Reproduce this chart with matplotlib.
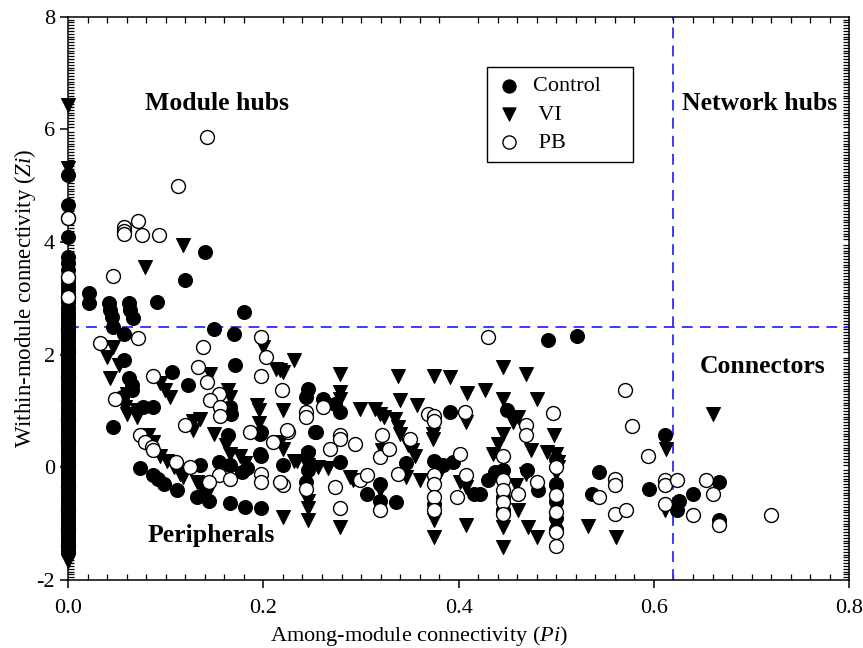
import numpy as np
import matplotlib.pyplot as plt
from matplotlib.ticker import MultipleLocator

plt.rcParams['font.family'] = ['Liberation Serif', 'DejaVu Serif']
plt.rcParams['mathtext.fontset'] = 'custom'
plt.rcParams['mathtext.it'] = 'Liberation Serif:italic'
plt.rcParams['mathtext.rm'] = 'Liberation Serif'
plt.rcParams['axes.unicode_minus'] = False

# nodes with Pi = 0 (the dense column on the left axis), Zi only
control_zi_at0 = [5.19, 4.65, 4.09, 3.74, 3.62, 3.50, 3.36, 3.28, 3.21, 3.13, 3.05, 2.98, 2.93,
                  2.85, 2.78, 2.71, 2.64, 2.57, 2.51, 2.44, 2.37, 2.30, 2.22, 2.16, 2.10, 2.02,
                  1.95, 1.89, 1.83, 1.76, 1.70, 1.63, 1.56, 1.49, 1.42, 1.36, 1.30, 1.23, 1.17,
                  1.10, 1.03, 0.97, 0.90, 0.84, 0.77, 0.70, 0.63, 0.57, 0.50, 0.44, 0.38, 0.31,
                  0.24, 0.18, 0.11, 0.05, -0.02, -0.08, -0.15, -0.22, -0.29, -0.35, -0.41,
                  -0.48, -0.55, -0.61, -0.68, -0.74, -0.80, -0.87, -0.94, -1.00, -1.07, -1.13,
                  -1.19, -1.26, -1.33, -1.39, -1.45, -1.50]
vi_zi_at0 = [6.43, 5.31, 3.23, 2.87, 2.72, 2.57, 2.44, 2.30, 2.16, 2.03, 1.88, 1.76, 1.62, 1.48,
             1.35, 1.21, 1.08, 0.95, 0.81, 0.68, 0.55, 0.42, 0.28, 0.15, 0.02, -0.12, -0.24,
             -0.38, -0.51, -0.64, -0.77, -0.90, -1.03, -1.17, -1.30, -1.42, -1.55, -1.66]
pb_zi_at0 = [4.42, 3.38, 3.02, 2.45, 2.05, 1.60, 1.20, 0.85, 0.45, 0.05, -0.35, -0.75, -1.10, -1.40]

# nodes with Pi > 0
control_pi = [0.021, 0.021, 0.042, 0.043, 0.045, 0.062, 0.063, 0.066, 0.091, 0.120, 0.140, 0.180,
              0.149, 0.170, 0.046, 0.057, 0.057, 0.171, 0.106, 0.062, 0.123, 0.065, 0.065, 0.055,
              0.077, 0.087, 0.166, 0.167, 0.046, 0.198, 0.164, 0.074, 0.087, 0.092, 0.098, 0.111,
              0.135, 0.154, 0.166, 0.132, 0.144, 0.183, 0.178, 0.198, 0.220, 0.166, 0.181, 0.198,
              0.246, 0.244, 0.253, 0.244, 0.196, 0.196,
              0.491, 0.521, 0.261, 0.273, 0.278, 0.449, 0.391, 0.254, 0.246, 0.278, 0.346, 0.375,
              0.384, 0.394, 0.416, 0.422, 0.430, 0.437, 0.445, 0.445, 0.445, 0.481, 0.306, 0.319,
              0.319, 0.336, 0.375, 0.246, 0.470,
              0.611, 0.544, 0.537, 0.595, 0.624, 0.626, 0.640, 0.667, 0.667,
              0.500, 0.500, 0.500, 0.500, 0.500]
control_zi = [3.10, 2.92, 2.91, 2.79, 2.67, 2.92, 2.79, 2.66, 2.94, 3.33, 3.82, 2.76,
              2.46, 2.36, 2.49, 2.37, 1.90, 1.81, 1.69, 1.58, 1.46, 1.46, 1.37, 1.25,
              1.07, 1.07, 1.07, 0.95, 0.72, 0.63, 0.57, -0.02, -0.14, -0.20, -0.29, -0.41,
              0.04, 0.09, 0.04, -0.53, -0.59, -0.02, -0.08, 0.21, 0.04, -0.64, -0.70, -0.73,
              1.40, 1.25, 0.63, -0.26, 0.24, 0.60,
              2.26, 2.33, 1.22, 1.13, 0.98, 1.01, 0.99, 0.63, 0.27, 0.09, 0.07, 0.12,
              0.04, 0.09, -0.47, -0.47, -0.23, -0.08, -0.05, -0.53, -0.76, -0.41, -0.47, -0.29,
              -0.59, -0.62, -0.65, -0.05, -0.05,
              0.57, -0.08, -0.47, -0.38, -0.76, -0.59, -0.47, -0.26, -0.94,
              0.15, -0.30, -0.60, -0.90, -1.10]

vi_pi = [0.118, 0.079, 0.046, 0.200, 0.040, 0.231, 0.052, 0.213, 0.220, 0.145, 0.043, 0.094,
         0.099, 0.104, 0.164, 0.166, 0.060, 0.058, 0.060, 0.070, 0.070, 0.193, 0.195, 0.220,
         0.128, 0.128, 0.135, 0.195, 0.149, 0.082, 0.087, 0.162, 0.166, 0.217, 0.220, 0.094,
         0.101, 0.108, 0.115, 0.118, 0.132, 0.137, 0.142, 0.176, 0.181, 0.231, 0.220, 0.246,
         0.246, 0.246, 0.246, 0.246, 0.234,
         0.217, 0.278, 0.338, 0.375, 0.391, 0.445, 0.469, 0.427, 0.409, 0.278, 0.278, 0.340,
         0.357, 0.445, 0.480, 0.299, 0.314, 0.319, 0.323, 0.335, 0.338, 0.340, 0.408, 0.374,
         0.374, 0.461, 0.456, 0.498, 0.321, 0.348, 0.352, 0.355, 0.244, 0.256, 0.266, 0.445,
         0.440, 0.435, 0.474, 0.490, 0.500, 0.502, 0.502, 0.377, 0.381, 0.360, 0.401, 0.408,
         0.445, 0.445, 0.459, 0.461, 0.469, 0.471, 0.480, 0.278, 0.346, 0.289, 0.292, 0.375,
         0.375, 0.408, 0.319,
         0.660, 0.612, 0.611, 0.532, 0.561,
         0.500, 0.500, 0.500, 0.500, 0.500]
vi_zi = [3.94, 3.55, 2.14, 2.14, 1.96, 1.90, 1.81, 1.75, 1.69, 1.66, 1.58, 1.49,
         1.37, 1.25, 1.37, 1.25, 1.31, 1.07, 0.95, 1.01, 0.89, 1.10, 1.01, 1.01,
         0.83, 0.66, 0.86, 0.78, 0.60, 0.57, 0.45, 0.39, 0.24, 0.45, 0.33, 0.21,
         0.12, 0.01, -0.11, -0.17, -0.26, -0.38, -0.47, 0.21, 0.07, 0.12, -0.88, 0.21,
         0.04, -0.59, -0.73, -0.94, 0.12,
         1.72, 1.65, 1.63, 1.63, 1.60, 1.79, 1.65, 1.38, 1.32, 1.34, 1.22, 1.20,
         1.10, 1.22, 1.22, 1.04, 1.04, 0.95, 0.89, 0.86, 0.72, 0.60, 0.80, 0.60,
         0.51, 0.89, 0.80, 0.57, 0.30, 0.39, 0.30, 0.21, 0.07, 0.01, -0.02, 0.60,
         0.42, 0.24, 0.30, 0.27, 0.24, 0.09, 0.01, 0.04, -0.08, -0.23, -0.26, -0.35,
         -1.06, -1.42, -0.32, -0.76, -0.11, -1.06, -1.24, -1.06, -0.17, -0.17, -0.23, -0.94,
         -1.24, -1.03, -0.40,
         0.95, 0.33, -0.76, -1.05, -1.23,
         -0.10, -0.45, -0.75, -1.00, -1.20]

pb_pi = [0.142, 0.112, 0.057, 0.057, 0.057, 0.072, 0.076, 0.093, 0.046, 0.197, 0.072, 0.033,
         0.138, 0.203, 0.133, 0.087, 0.198, 0.142, 0.219, 0.154, 0.048, 0.145, 0.156, 0.156,
         0.120, 0.186, 0.074, 0.079, 0.086, 0.087, 0.210, 0.225, 0.110, 0.125, 0.154, 0.166,
         0.144, 0.198, 0.198, 0.220, 0.244, 0.244, 0.244, 0.224, 0.217,
         0.430, 0.261, 0.369, 0.375, 0.375, 0.406, 0.497, 0.469, 0.469, 0.278, 0.278, 0.294,
         0.321, 0.319, 0.329, 0.350, 0.268, 0.445, 0.401, 0.375, 0.408, 0.398, 0.445, 0.445,
         0.445, 0.445, 0.461, 0.480, 0.273, 0.278, 0.319, 0.338, 0.299, 0.306, 0.375, 0.375,
         0.375, 0.500,
         0.570, 0.578, 0.594, 0.560, 0.560, 0.544, 0.611, 0.611, 0.624, 0.611, 0.640, 0.653,
         0.660, 0.667, 0.720, 0.560, 0.571,
         0.500, 0.500, 0.500, 0.500]
pb_zi = [5.86, 4.99, 4.27, 4.20, 4.15, 4.37, 4.12, 4.12, 3.39, 2.31, 2.29, 2.20,
         2.14, 1.96, 1.78, 1.63, 1.63, 1.52, 1.37, 1.31, 1.22, 1.19, 1.07, 0.92,
         0.75, 0.63, 0.57, 0.45, 0.36, 0.30, 0.45, 0.63, 0.09, 0.01, -0.14, -0.20,
         -0.26, -0.11, -0.26, -0.32, 0.98, 0.89, -0.38, 0.66, -0.26,
         2.31, 1.07, 0.95, 0.92, 0.83, 0.98, 0.96, 0.75, 0.57, 0.57, 0.51, 0.42,
         0.57, 0.18, 0.33, 0.51, 0.33, 0.21, 0.24, -0.14, -0.14, -0.53, -0.23, -0.41,
         -0.62, -0.82, -0.47, -0.26, -0.35, -0.73, -0.76, -0.11, -0.23, -0.14, -0.29, -0.53,
         -0.76, -1.39,
         1.37, 0.73, 0.20, -0.20, -0.32, -0.53, -0.23, -0.32, -0.23, -0.65, -0.85, -0.23,
         -0.47, -1.03, -0.85, -0.82, -0.76,
         0.00, -0.50, -0.80, -1.15]

zi_cut = 2.5
pi_cut = 0.62

fig, ax = plt.subplots(figsize=(8.63, 6.48), dpi=100)
fig.subplots_adjust(left=0.079, right=0.984, bottom=0.105, top=0.974)

ms = 100
# PB nodes in the Pi = 0 column sit underneath the filled ones
ax.scatter(np.zeros(len(pb_zi_at0)), pb_zi_at0, s=ms, marker='o', c='white',
           edgecolors='black', linewidths=1.0, zorder=2.5, clip_on=False)
ax.scatter(np.zeros(len(control_zi_at0)), control_zi_at0, s=ms, marker='o', c='black',
           edgecolors='black', linewidths=0.8, zorder=2.6, clip_on=False)
ax.scatter(np.zeros(len(vi_zi_at0)), vi_zi_at0, s=ms, marker='v', c='black',
           edgecolors='black', linewidths=0.8, zorder=2.6, clip_on=False)
# redraw the PB ones that stick out above the solid column
top_pb = [z for z in pb_zi_at0 if z > 2.95]
ax.scatter(np.zeros(len(top_pb)), top_pb, s=ms, marker='o', c='white',
           edgecolors='black', linewidths=1.0, zorder=2.7, clip_on=False)

ax.scatter(control_pi, control_zi, s=ms, marker='o', c='black', edgecolors='black',
           linewidths=0.8, label='Control', zorder=3)
ax.scatter(vi_pi, vi_zi, s=ms, marker='v', c='black', edgecolors='black', linewidths=0.8,
           label=' VI', zorder=3)
ax.scatter(pb_pi, pb_zi, s=ms, marker='o', c='white', edgecolors='black', linewidths=1.0,
           label=' PB', zorder=3)

ax.axhline(zi_cut, color='#2b2bff', lw=1.3, ls=(0, (6, 4)), zorder=2)
ax.axvline(pi_cut, color='#2b2bff', lw=1.3, ls=(0, (6, 4)), zorder=2)

ax.set_xlim(0, 0.8)
ax.set_ylim(-2, 8)
ax.xaxis.set_minor_locator(MultipleLocator(0.02))
ax.yaxis.set_major_locator(MultipleLocator(2))
ax.yaxis.set_minor_locator(MultipleLocator(0.05))
ax.set_xticks([0, 0.2, 0.4, 0.6, 0.8])
ax.set_xticklabels(['0.0', '0.2', '0.4', '0.6', '0.8'])
ax.tick_params(which='major', direction='out', length=6, width=1.1, labelsize=16)
ax.tick_params(axis='x', which='major', pad=8)
ax.tick_params(which='minor', direction='in', length=4.5, width=0.9,
               top=True, right=True)
for sp in ax.spines.values():
    sp.set_linewidth(1.1)

ax.set_xlabel('Among-module connectivity ($\\mathit{Pi}$)', fontsize=16)
ax.set_ylabel('Within-module connectivity ($\\mathit{Zi}$)', fontsize=16.5, labelpad=-1)
ax.xaxis.set_label_coords(0.449, -0.1)
ax.xaxis.label.set_verticalalignment('center')

ax.text(0.079, 6.47, 'Module hubs', fontsize=18.5, fontweight='bold', va='center')
ax.text(0.629, 6.47, 'Network hubs', fontsize=18.5, fontweight='bold', va='center')
ax.text(0.6465, 1.79, 'Connectors', fontsize=18.5, fontweight='bold', va='center')
ax.text(0.081, -1.21, 'Peripherals', fontsize=18.5, fontweight='bold', va='center')

leg = ax.legend(loc='upper left', bbox_to_anchor=(0.536, 0.911), borderaxespad=0,
                fontsize=16, frameon=True, fancybox=False, edgecolor='black', framealpha=1,
                handlelength=1.2, handletextpad=0.5, borderpad=0.4, labelspacing=0.35,
                scatterpoints=1, markerscale=0.95)
leg.get_frame().set_linewidth(1.0)
for t in leg.get_texts():
    t.set_text(t.get_text() + '    ')

plt.savefig('out.png', dpi=100)
